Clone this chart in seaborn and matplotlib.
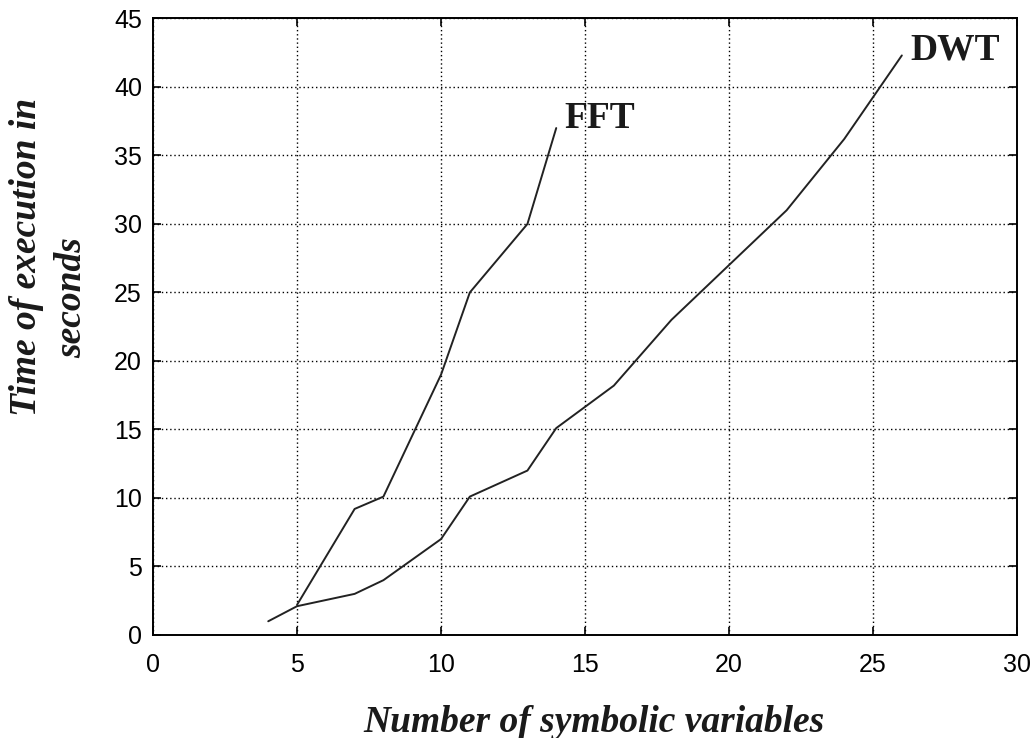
import matplotlib
matplotlib.use("Agg")
import matplotlib.pyplot as plt
import seaborn as sns
import pandas as pd

# Data
fft_x = [5, 7, 8, 10, 11, 13, 14]
fft_y = [2.2, 9.2, 10.1, 19.0, 25.0, 30.0, 37.0]
dwt_x = [4, 5, 7, 8, 10, 11, 13, 14, 16, 18, 20, 22, 24, 26]
dwt_y = [1.0, 2.1, 3.0, 4.0, 7.0, 10.1, 12.0, 15.1, 18.2, 23.0, 27.0, 31.0, 36.2, 42.3]
x_ticks = [0, 5, 10, 15, 20, 25, 30]
y_ticks = [0, 5, 10, 15, 20, 25, 30, 35, 40, 45]

sns.set_theme(style="white")
plt.rcParams['font.family'] = ['Liberation Sans', 'DejaVu Sans']

fig = plt.figure(figsize=(10.34, 7.38), dpi=100)
ax = fig.add_axes([0.148, 0.1396, 0.8356, 0.8354])

df_fft = pd.DataFrame({"x": fft_x, "y": fft_y})
df_dwt = pd.DataFrame({"x": dwt_x, "y": dwt_y})
sns.lineplot(data=df_fft, x="x", y="y", ax=ax, color="#222222", linewidth=1.4)
sns.lineplot(data=df_dwt, x="x", y="y", ax=ax, color="#222222", linewidth=1.4)

ax.set_xlim(0, 30)
ax.set_ylim(0, 45)
ax.set_xticks(x_ticks)
ax.set_yticks(y_ticks)
ax.set_xticklabels([str(t) for t in x_ticks], fontsize=18)
ax.set_yticklabels([str(t) for t in y_ticks], fontsize=18)
ax.tick_params(direction="in", length=6, width=1.2, colors="black",
               top=True, right=True, bottom=True, left=True)
ax.tick_params(axis="x", pad=13)
ax.tick_params(axis="y", pad=8)
ax.grid(True, color="black", linestyle=(0, (1, 2)), linewidth=1.0)
for s in ax.spines.values():
    s.set_visible(True)
    s.set_color("black")
    s.set_linewidth(1.4)

ax.set_xlabel("")
ax.set_ylabel("")
serif_bi = dict(fontsize=27, fontstyle="italic", fontweight="bold",
                family=["Liberation Serif"], color="#1a1a1a")
fig.text(594 / 1034, 1 - 732 / 738, "Number of symbolic variables",
         ha="center", va="baseline", **serif_bi)
fig.text(27 / 1034, 1 - 257 / 738, "Time of execution in", rotation=90,
         ha="center", va="center", **serif_bi)
fig.text(72 / 1034, 1 - 298 / 738, "seconds", rotation=90,
         ha="center", va="center", **serif_bi)

ax.text(14.27, 37.0, "FFT", fontsize=27, fontweight="bold",
        family=["Liberation Serif"], ha="left", va="baseline", color="#1a1a1a")
ax.text(26.3, 42.0, "DWT", fontsize=27, fontweight="bold",
        family=["Liberation Serif"], ha="left", va="baseline", color="#1a1a1a")

fig.savefig("out.png", dpi=100)
